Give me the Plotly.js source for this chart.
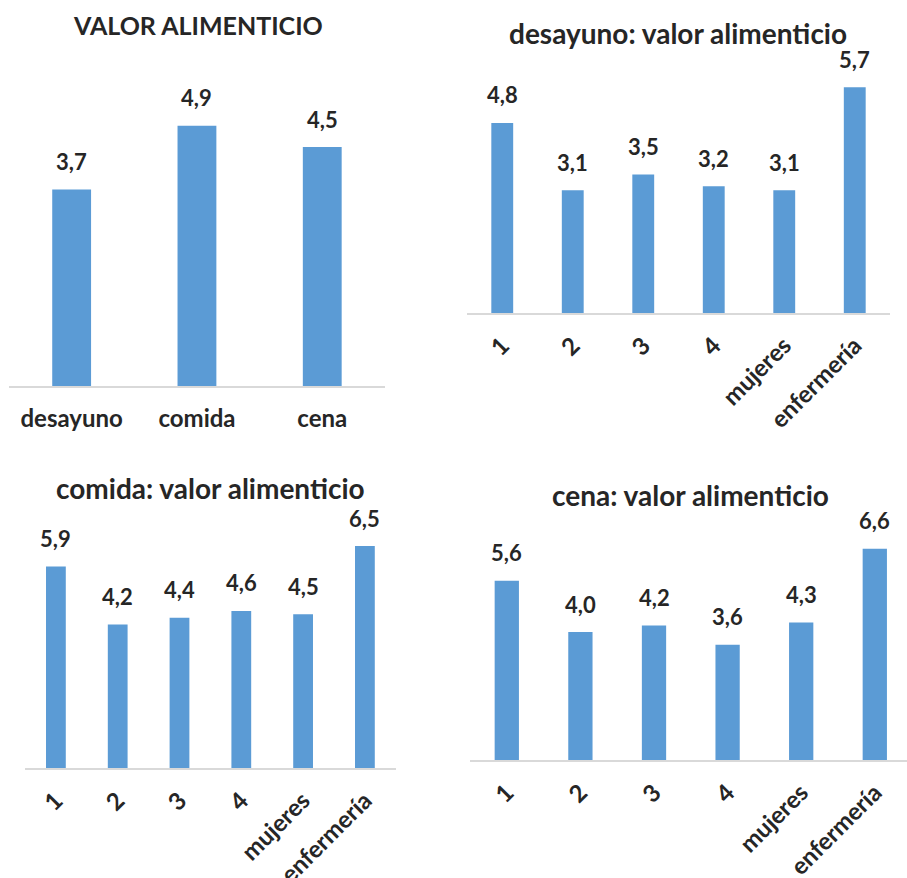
<!DOCTYPE html>
<html>
<head>
<meta charset="utf-8">
<script src="https://cdn.plot.ly/plotly-3.0.1.min.js"></script>
<style>
  html, body { margin: 0; padding: 0; background: #ffffff; }
  #chart { width: 907px; height: 878px; }
</style>
</head>
<body>
<div id="chart"></div>
<script>
// Nutritional value scores per meal
const mealCats = ['desayuno', 'comida', 'cena'];
const mealVals = [3.7, 4.9, 4.5];

// Per-group scores for each meal
const groupCats = ['1', '2', '3', '4', 'mujeres', 'enfermería'];
const desayunoVals = [4.8, 3.1, 3.5, 3.2, 3.1, 5.7];
const comidaVals = [5.9, 4.2, 4.4, 4.6, 4.5, 6.5];
const cenaVals = [5.6, 4.0, 4.2, 3.6, 4.3, 6.6];

const panelTitles = [
  'VALOR ALIMENTICIO',
  'desayuno: valor alimenticio',
  'comida: valor alimenticio',
  'cena: valor alimenticio'
];

const W = 907, H = 878;
const FONT = 'Lato, "Open Sans", sans-serif';
const TEXT = '#262626';
const BAR = '#5b9bd5';

// Panel geometry in pixels: plot left/right, baseline, pixels per unit, category step, title centre
const panels = [
  { cats: mealCats,  vals: mealVals,     x0: 9,   x1: 385, base: 386, ppu: 53.1,  step: 125.3, tx: 198, ty: 25,  angle: 0,   yMax: 6, titleSize: 25, barW: 0.31 },
  { cats: groupCats, vals: desayunoVals, x0: 467, x1: 890, base: 313, ppu: 39.6,  step: 70.5,  tx: 678, ty: 33,  angle: -45, yMax: 7, titleSize: 28, barW: 0.31 },
  { cats: groupCats, vals: comidaVals,   x0: 25,  x1: 396, base: 768, ppu: 34.15, step: 61.8,  tx: 210, ty: 488, angle: -45, yMax: 8, titleSize: 28, barW: 0.32 },
  { cats: groupCats, vals: cenaVals,     x0: 470, x1: 907, base: 760, ppu: 32.0,  step: 73.6,  tx: 690, ty: 495, angle: -45, yMax: 8, titleSize: 28, barW: 0.33 }
];

const traces = [];
const layout = {
  width: W, height: H,
  margin: { l: 0, r: 0, t: 0, b: 0 },
  paper_bgcolor: '#ffffff',
  plot_bgcolor: 'rgba(0,0,0,0)',
  showlegend: false,
  separators: ',.',
  font: { family: FONT, color: TEXT },
  annotations: []
};

panels.forEach((p, i) => {
  const n = i === 0 ? '' : String(i + 1);
  const xa = 'xaxis' + n, ya = 'yaxis' + n;
  const xr = 'x' + n, yr = 'y' + n;
  const top = p.base - p.yMax * p.ppu;
  const idx = p.cats.map((_, k) => k);

  traces.push({
    type: 'bar',
    x: idx,
    y: p.vals,
    xaxis: xr, yaxis: yr,
    width: p.barW,
    marker: { color: BAR },
    hoverinfo: 'skip'
  });

  layout[xa] = {
    domain: [p.x0 / W, p.x1 / W],
    anchor: yr,
    range: [-0.5, -0.5 + (p.x1 - p.x0) / p.step],
    tickmode: 'array', tickvals: idx, ticktext: p.cats,
    showline: true, linecolor: '#d9d9d9', linewidth: 2,
    showgrid: false, zeroline: false, ticks: '',
    tickangle: p.angle,
    ticklabelstandoff: i === 0 ? 10 : 7,
    tickfont: { family: FONT, size: 24, weight: 700, color: TEXT },
    fixedrange: true
  };
  layout[ya] = {
    domain: [(H - p.base) / H, (H - top) / H],
    anchor: xr,
    range: [0, p.yMax],
    visible: false,
    fixedrange: true
  };

  // value labels above each bar
  idx.forEach(k => {
    layout.annotations.push({
      xref: xr, yref: yr, x: k, y: p.vals[k],
      text: p.vals[k].toFixed(1).replace('.', ','),
      showarrow: false, yanchor: 'middle', yshift: 28,
      font: { family: FONT, size: 22, weight: 700, color: TEXT }
    });
  });

  // panel title
  layout.annotations.push({
    xref: 'paper', yref: 'paper',
    x: p.tx / W, y: 1 - p.ty / H,
    xanchor: 'center', yanchor: 'middle',
    text: panelTitles[i], showarrow: false,
    font: { family: FONT, size: p.titleSize, weight: 700, color: TEXT }
  });
});

Plotly.newPlot('chart', traces, layout, { displayModeBar: false, staticPlot: true });
</script>
</body>
</html>
